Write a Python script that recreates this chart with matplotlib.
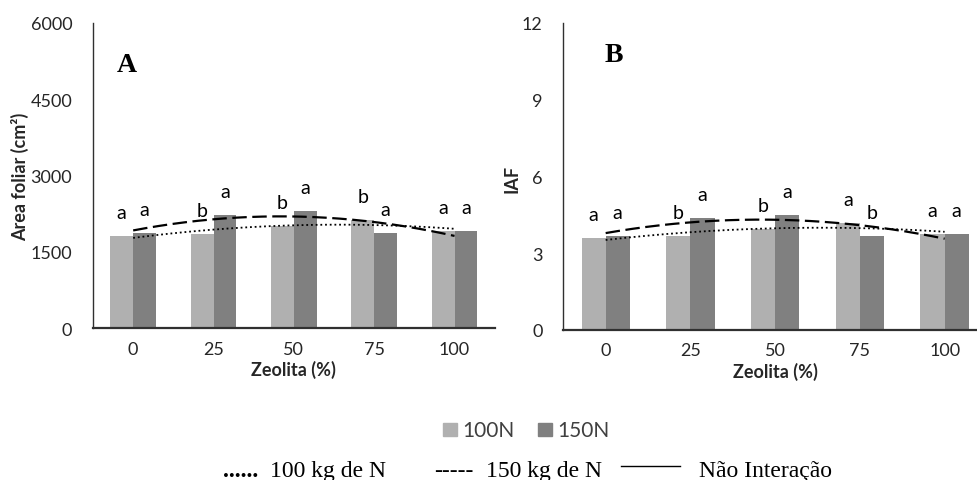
import matplotlib.pyplot as plt
import numpy as np
from matplotlib.lines import Line2D
from matplotlib.patches import Rectangle

W, H = 978, 481

zeolita = ["0", "25", "50", "75", "100"]

# Panel A - leaf area (cm2)
area_100n = [1820, 1860, 2005, 2135, 1906]
area_150n = [1867, 2221, 2300, 1873, 1906]
area_let_100n = ["a", "b", "b", "b", "a"]
area_let_150n = ["a", "a", "a", "a", "a"]
area_ticks = [0, 1500, 3000, 4500, 6000]

# Panel B - leaf area index
iaf_100n = [3.60, 3.67, 3.95, 4.17, 3.75]
iaf_150n = [3.67, 4.38, 4.50, 3.67, 3.75]
iaf_let_100n = ["a", "b", "b", "a", "a"]
iaf_let_150n = ["a", "a", "a", "b", "a"]
iaf_ticks = [0, 3, 6, 9, 12]

LIGHT = "#b0b0b0"
DARK = "#808080"
TXT = "#262626"
SANS = "Lato"
SERIF = "Liberation Serif"

plt.rcParams["font.family"] = SANS

fig = plt.figure(figsize=(W / 100, H / 100), dpi=100)


def fx(px):
    return px / W


def fy(py):
    return 1 - py / H


def panel(rect, v100, v150, l100, l150, ticks, tag, tag_xy):
    ax = fig.add_axes(rect)
    x = np.arange(len(zeolita))
    bw = 0.285
    ax.bar(x - bw / 2, v100, bw, color=LIGHT, zorder=1)
    ax.bar(x + bw / 2, v150, bw, color=DARK, zorder=1)

    for xi, v, t in zip(x - bw / 2, v100, l100):
        ax.annotate(t, (xi, v), xytext=(0, 17), textcoords="offset points",
                    ha="center", va="center", fontsize=14, color="black")
    for xi, v, t in zip(x + bw / 2, v150, l150):
        ax.annotate(t, (xi, v), xytext=(0, 17), textcoords="offset points",
                    ha="center", va="center", fontsize=14, color="black")

    # quadratic trend lines through each nitrogen series
    xs = np.linspace(0, len(zeolita) - 1, 200)
    c100 = np.polyfit(x, v100, 2)
    c150 = np.polyfit(x, v150, 2)
    ax.plot(xs, np.polyval(c100, xs), color="black", lw=1.3,
            linestyle=(0, (1, 1.6)), zorder=3)
    ax.plot(xs, np.polyval(c150, xs), color="black", lw=1.6,
            linestyle=(0, (6.5, 2.5)), zorder=3)

    ax.set_xlim(-0.5, len(zeolita) - 0.5)
    ax.set_ylim(ticks[0], ticks[-1])
    ax.set_xticks(x, zeolita)
    ax.set_yticks(ticks)
    ax.tick_params(length=0, labelsize=13, labelcolor=TXT)
    ax.tick_params(axis="y", pad=15)
    ax.tick_params(axis="x", pad=9)
    for s in ["top", "right"]:
        ax.spines[s].set_visible(False)
    ax.spines["left"].set_color("#303030")
    ax.spines["left"].set_linewidth(1.0)
    ax.spines["bottom"].set_color("#303030")
    ax.spines["bottom"].set_linewidth(1.6)
    ax.set_facecolor("none")

    fig.text(fx(tag_xy[0]), fy(tag_xy[1]), tag, family=SERIF,
             fontweight="bold", fontsize=20, ha="center", va="center")
    return ax


panel([fx(93), fy(329.3), fx(494.7 - 93), (329.3 - 24) / H],
      area_100n, area_150n, area_let_100n, area_let_150n, area_ticks,
      "A", (126.5, 66))
panel([fx(563.3), fy(331), fx(987 - 563.3), (331 - 24) / H],
      iaf_100n, iaf_150n, iaf_let_100n, iaf_let_150n, iaf_ticks,
      "B", (614, 55))

# axis titles
fig.text(fx(20), fy(177), "Area foliar (cm²)", rotation=90, ha="center",
         va="center", fontsize=13, fontweight="bold", color=TXT)
fig.text(fx(511.7), fy(179), "IAF", rotation=90, ha="center",
         va="center", fontsize=13, fontweight="bold", color=TXT)
fig.text(fx(293.9), fy(370), "Zeolita (%)", ha="center", va="center",
         fontsize=13, fontweight="bold", color=TXT)
fig.text(fx(775), fy(371.7), "Zeolita (%)", ha="center", va="center",
         fontsize=13, fontweight="bold", color=TXT)

# bar legend
for x0, col, lab in [(442.7, LIGHT, "100N"), (537.7, DARK, "150N")]:
    fig.patches.append(Rectangle((fx(x0), fy(436.5)), fx(14), 13 / H,
                                 transform=fig.transFigure, color=col))
    fig.text(fx(x0 + 20), fy(436.7), lab, ha="left", va="baseline",
             fontsize=15, color="#404040")

# trend line legend
fig.text(fx(258), fy(476.7), "......", family=SERIF, fontweight="bold",
         fontsize=17, ha="right", va="baseline")
fig.text(fx(270), fy(476.7), "100 kg de N", family=SERIF,
         fontsize=17, ha="left", va="baseline")
fig.text(fx(434), fy(476.7), "-----", family=SERIF,
         fontsize=17, ha="left", va="baseline")
fig.text(fx(601.7), fy(476.7), "150 kg de N", family=SERIF,
         fontsize=17, ha="right", va="baseline")
fig.lines.append(Line2D([fx(620.7), fx(680)], [fy(466.7), fy(466.7)],
                        transform=fig.transFigure, color="black", lw=1.0))
fig.text(fx(699), fy(476.7), "Não Interação", family=SERIF,
         fontsize=17, ha="left", va="baseline")

fig.savefig("out.png", dpi=100)
